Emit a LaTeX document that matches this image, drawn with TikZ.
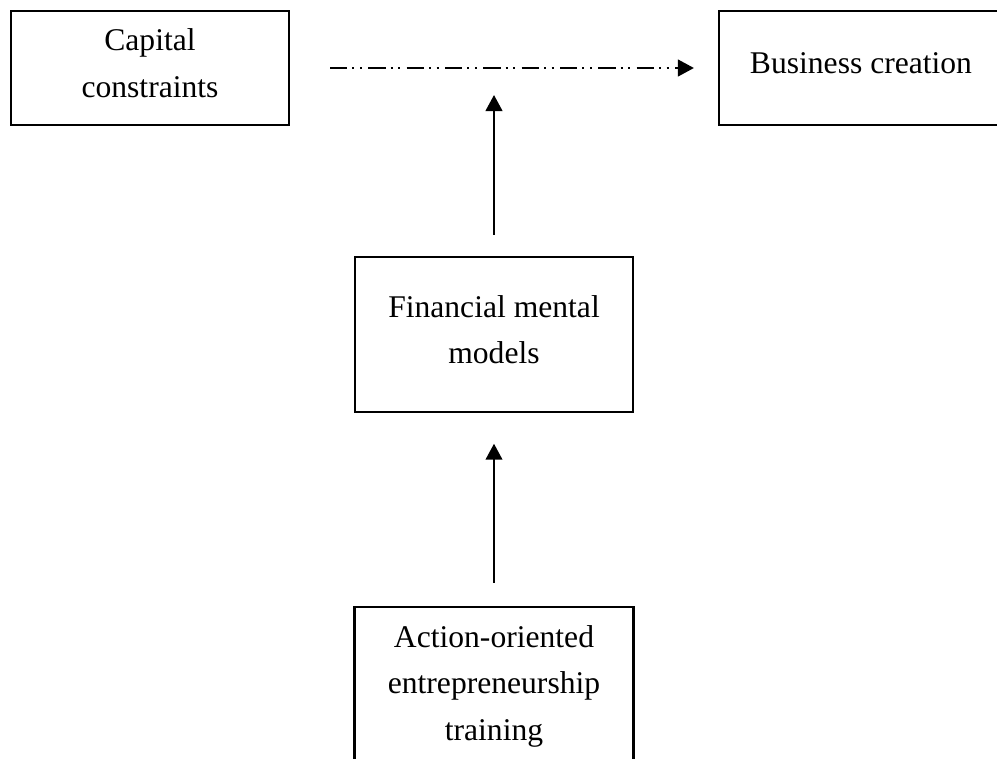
\documentclass[tikz,border=0pt]{standalone}
\usepackage{fontspec}
\setmainfont{Liberation Serif}
\usetikzlibrary{arrows.meta}

\tikzset{
  boxnode/.style={draw, line width=1.6pt, inner sep=0pt, align=center,
    font=\fontsize{23.7pt}{35pt}\selectfont,
    execute at end node={\rule[-7.5pt]{0pt}{0pt}}},
  linkarrow/.style={line width=1.6pt, -{Triangle[length=12pt,width=12.5pt]}},
  dashdotdot/.style={dash pattern=on 13pt off 3.75pt on 1.5pt off 4.25pt on 1.5pt off 4.75pt}
}

\begin{document}
\begin{tikzpicture}[x=0.75pt,y=0.75pt,yscale=-1]
            %set diagram size 997 x 758
            \useasboundingbox (0,0) rectangle (997,758);

            % Text Node
            \node [boxnode, minimum width=208.5pt, minimum height=85.5pt] (cap) at (150,68) {Capital\\constraints};
            % Text Node
            \node [boxnode, minimum width=213pt, minimum height=85.5pt] (bus) at (861,68) {Business creation};
            % Text Node
            \node [boxnode, minimum width=208.5pt, minimum height=116.25pt] (fin) at (494,334.5) {Financial mental\\models};
            % Text Node
            \node [boxnode, minimum width=209.25pt, minimum height=121.5pt] (act) at (494,688) {Action-oriented\\entrepreneurship\\training};

            %Shape: moderating point on the dash-dot line
            \coordinate (mod) at (494,95);

            %Straight Lines
            \draw [linkarrow, dashdotdot, shorten <=30pt, shorten >=18pt] (cap.east) -- (bus.west);
            %Straight Lines
            \draw [linkarrow, shorten <=15.75pt] (fin.north) -- (mod);
            %Straight Lines
            \draw [linkarrow, shorten <=17.25pt, shorten >=23pt] (act.north) -- (fin.south);

\end{tikzpicture}
\end{document}
